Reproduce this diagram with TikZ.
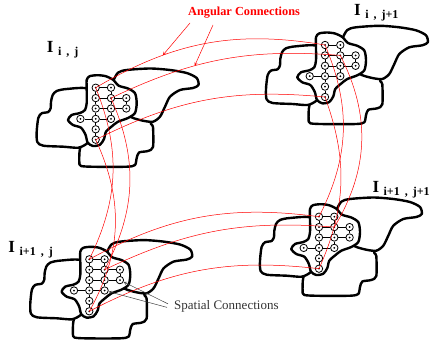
\documentclass[tikz,border=0pt]{standalone}
\usepackage{fontspec}
\setmainfont{Liberation Serif}
\newcommand{\imgname}[1]{{\fontsize{17}{17}\selectfont\bfseries I}\hspace{4.5pt}%
  \raisebox{-3pt}{\fontsize{12}{12}\selectfont\bfseries\spaceskip=5pt\relax #1}}
\begin{document}
\begin{tikzpicture}[x=1pt,y=-1pt,
  blob/.style={draw,fill=white,line width=2.4pt,line join=round},
  pix/.style={circle,draw,fill=white,line width=0.8pt,minimum size=7.4pt,inner sep=0pt,
    path picture={\fill[black] (path picture bounding box.center) circle (1pt);}},
  link/.style={line width=0.5pt},
  angular/.style={red,line width=0.5pt},
  angarrow/.style={red,line width=0.5pt,-stealth},
  spatarrow/.style={black!75,line width=0.5pt,-stealth}]
  \useasboundingbox (0,0) rectangle (438,342);
  \foreach \n/\x/\y in {tl/95.7/87.7, tr/325/45, bl/89.3/259.3, br/319/216.7} {
    \begin{scope}[shift={(\x,\y)}]
      % outer regions first, the region with the pixel grid on top
      \draw[blob] plot[smooth cycle,tension=0.45] coordinates {(-15.5,60) (-16.2,64)
        (-16.4,74) (-14.7,78.3) (1,79.1) (31.3,79) (39.3,77.3) (41,70.3) (43.3,64.8)
        (52.3,63.3) (57.3,59.3) (57.3,39.3) (55.3,36.3) (52,27) (25,24) (5,32) (-18,52)};
      \draw[blob] plot[smooth cycle,tension=0.45] coordinates {(17.3,-6) (22.3,-15)
        (31,-17.7) (54.3,-19.2) (74.3,-17.7) (91,-14.7) (101,-9.7) (102.8,-2.7)
        (97.3,0.3) (84.3,2.3) (74.3,9) (69.3,19) (64.3,29) (57.3,34) (47.3,33)
        (35.3,29.3) (25,20) (15,5)};
      \draw[blob] plot[smooth cycle,tension=0.45] coordinates {(-7.5,1.3) (-29,1.3)
        (-39,3.3) (-43,7.3) (-44.7,14) (-45,20.3) (-47.4,24.3) (-54,25.6) (-57.4,30.3)
        (-59,44) (-58.4,54.3) (-52.4,58) (-32.4,59) (-17.4,60) (-9,56) (-5,50) (-4,20)};
      \draw[blob] plot[smooth cycle,tension=0.45] coordinates {(-9,-7.7) (-6,-11.5)
        (2,-12.5) (10,-11.5) (17.3,-8) (23,-2) (32.3,0.8) (39.3,5.5) (41,15.3)
        (39.3,25.3) (32.3,30.3) (22.3,34) (16.3,38.5) (10.3,44) (8.3,51.3) (4.3,57)
        (-2.7,58.3) (-8,55) (-10.2,47) (-14.7,40) (-22.7,37.3) (-27.7,32.3) (-24,27.3)
        (-15.7,25.3) (-10.7,22.3) (-9,15.3) (-9,3)};
      \foreach \r/\c in {0/1,0/2,1/1,1/2,1/3,2/1,2/2,2/3,3/0,3/1,3/2,4/1,5/1}
        \node[pix] (\n-\r-\c) at ({(\c-1)*15.3},{\r*10.4}) {};
      \foreach \p/\q in {0-1/0-2,1-1/1-2,1-2/1-3,2-1/2-2,2-2/2-3,3-0/3-1,3-1/3-2,
          0-1/1-1,1-1/2-1,2-1/3-1,3-1/4-1,4-1/5-1,0-2/1-2,1-2/2-2,2-2/3-2,1-3/2-3}
        \draw[link] (\n-\p) -- (\n-\q);
    \end{scope}
  }
  \draw[angular] (tl-0-1.center) to[bend left=20] coordinate[pos=0.3] (hit1) (tr-0-1.center);
  \draw[angular] (tl-1-2.center) to[bend left=15] coordinate[pos=0.37] (hit2) (tr-1-2.center);
  \draw[angular] (tl-5-1.center) to[bend left=16] (tr-5-1.center);
  \draw[angular] (bl-0-1.center) to[bend left=18] (br-0-1.center);
  \draw[angular] (bl-1-2.center) to[bend left=15] (br-1-2.center);
  \draw[angular] (bl-5-1.center) to[bend left=17] (br-5-1.center);
  \draw[angular] (tl-0-1.center) to[bend left=24] (bl-0-1.center);
  \draw[angular] (tl-1-2.center) to[bend left=26] (bl-1-2.center);
  \draw[angular] (tl-5-1.center) to[bend left=27] (bl-5-1.center);
  \draw[angular] (tr-0-1.center) to[bend left=25] (br-0-1.center);
  \draw[angular] (tr-1-2.center) to[bend left=29] (br-1-2.center);
  \draw[angular] (tr-5-1.center) to[bend left=22] (br-5-1.center);
  \node[anchor=base west,inner sep=0pt] (name-tl) at (46.7,52.7) {\imgname{i , j}};
  \node[anchor=base west,inner sep=0pt] (name-tr) at (354,15.7) {\imgname{i , j+1}};
  \node[anchor=base west,inner sep=0pt] (name-bl) at (8.3,252.7) {\imgname{i+1 , j}};
  \node[anchor=base west,inner sep=0pt] (name-br) at (372.3,192.7) {\imgname{i+1 , j+1}};
  \node[anchor=base west,inner sep=0pt,red,font=\fontsize{12.3}{13}\selectfont\bfseries]
    (angular) at (188,16) {Angular Connections};
  \draw[angarrow] ([xshift=2pt,yshift=-7pt]angular.base west) -- (hit1);
  \draw[angarrow] ([xshift=25pt,yshift=-9pt]angular.base west) -- (hit2);
  \node[anchor=base west,inner sep=0pt,black!80,font=\fontsize{13}{14}\selectfont]
    (spatial) at (174,309) {Spatial Connections};
  \draw[spatarrow] ([xshift=-6pt,yshift=2pt]spatial.west) -- (bl-2-3);
  \draw[spatarrow] ([xshift=-7pt,yshift=-1.5pt]spatial.west) -- (bl-3-2);
\end{tikzpicture}
\end{document}
